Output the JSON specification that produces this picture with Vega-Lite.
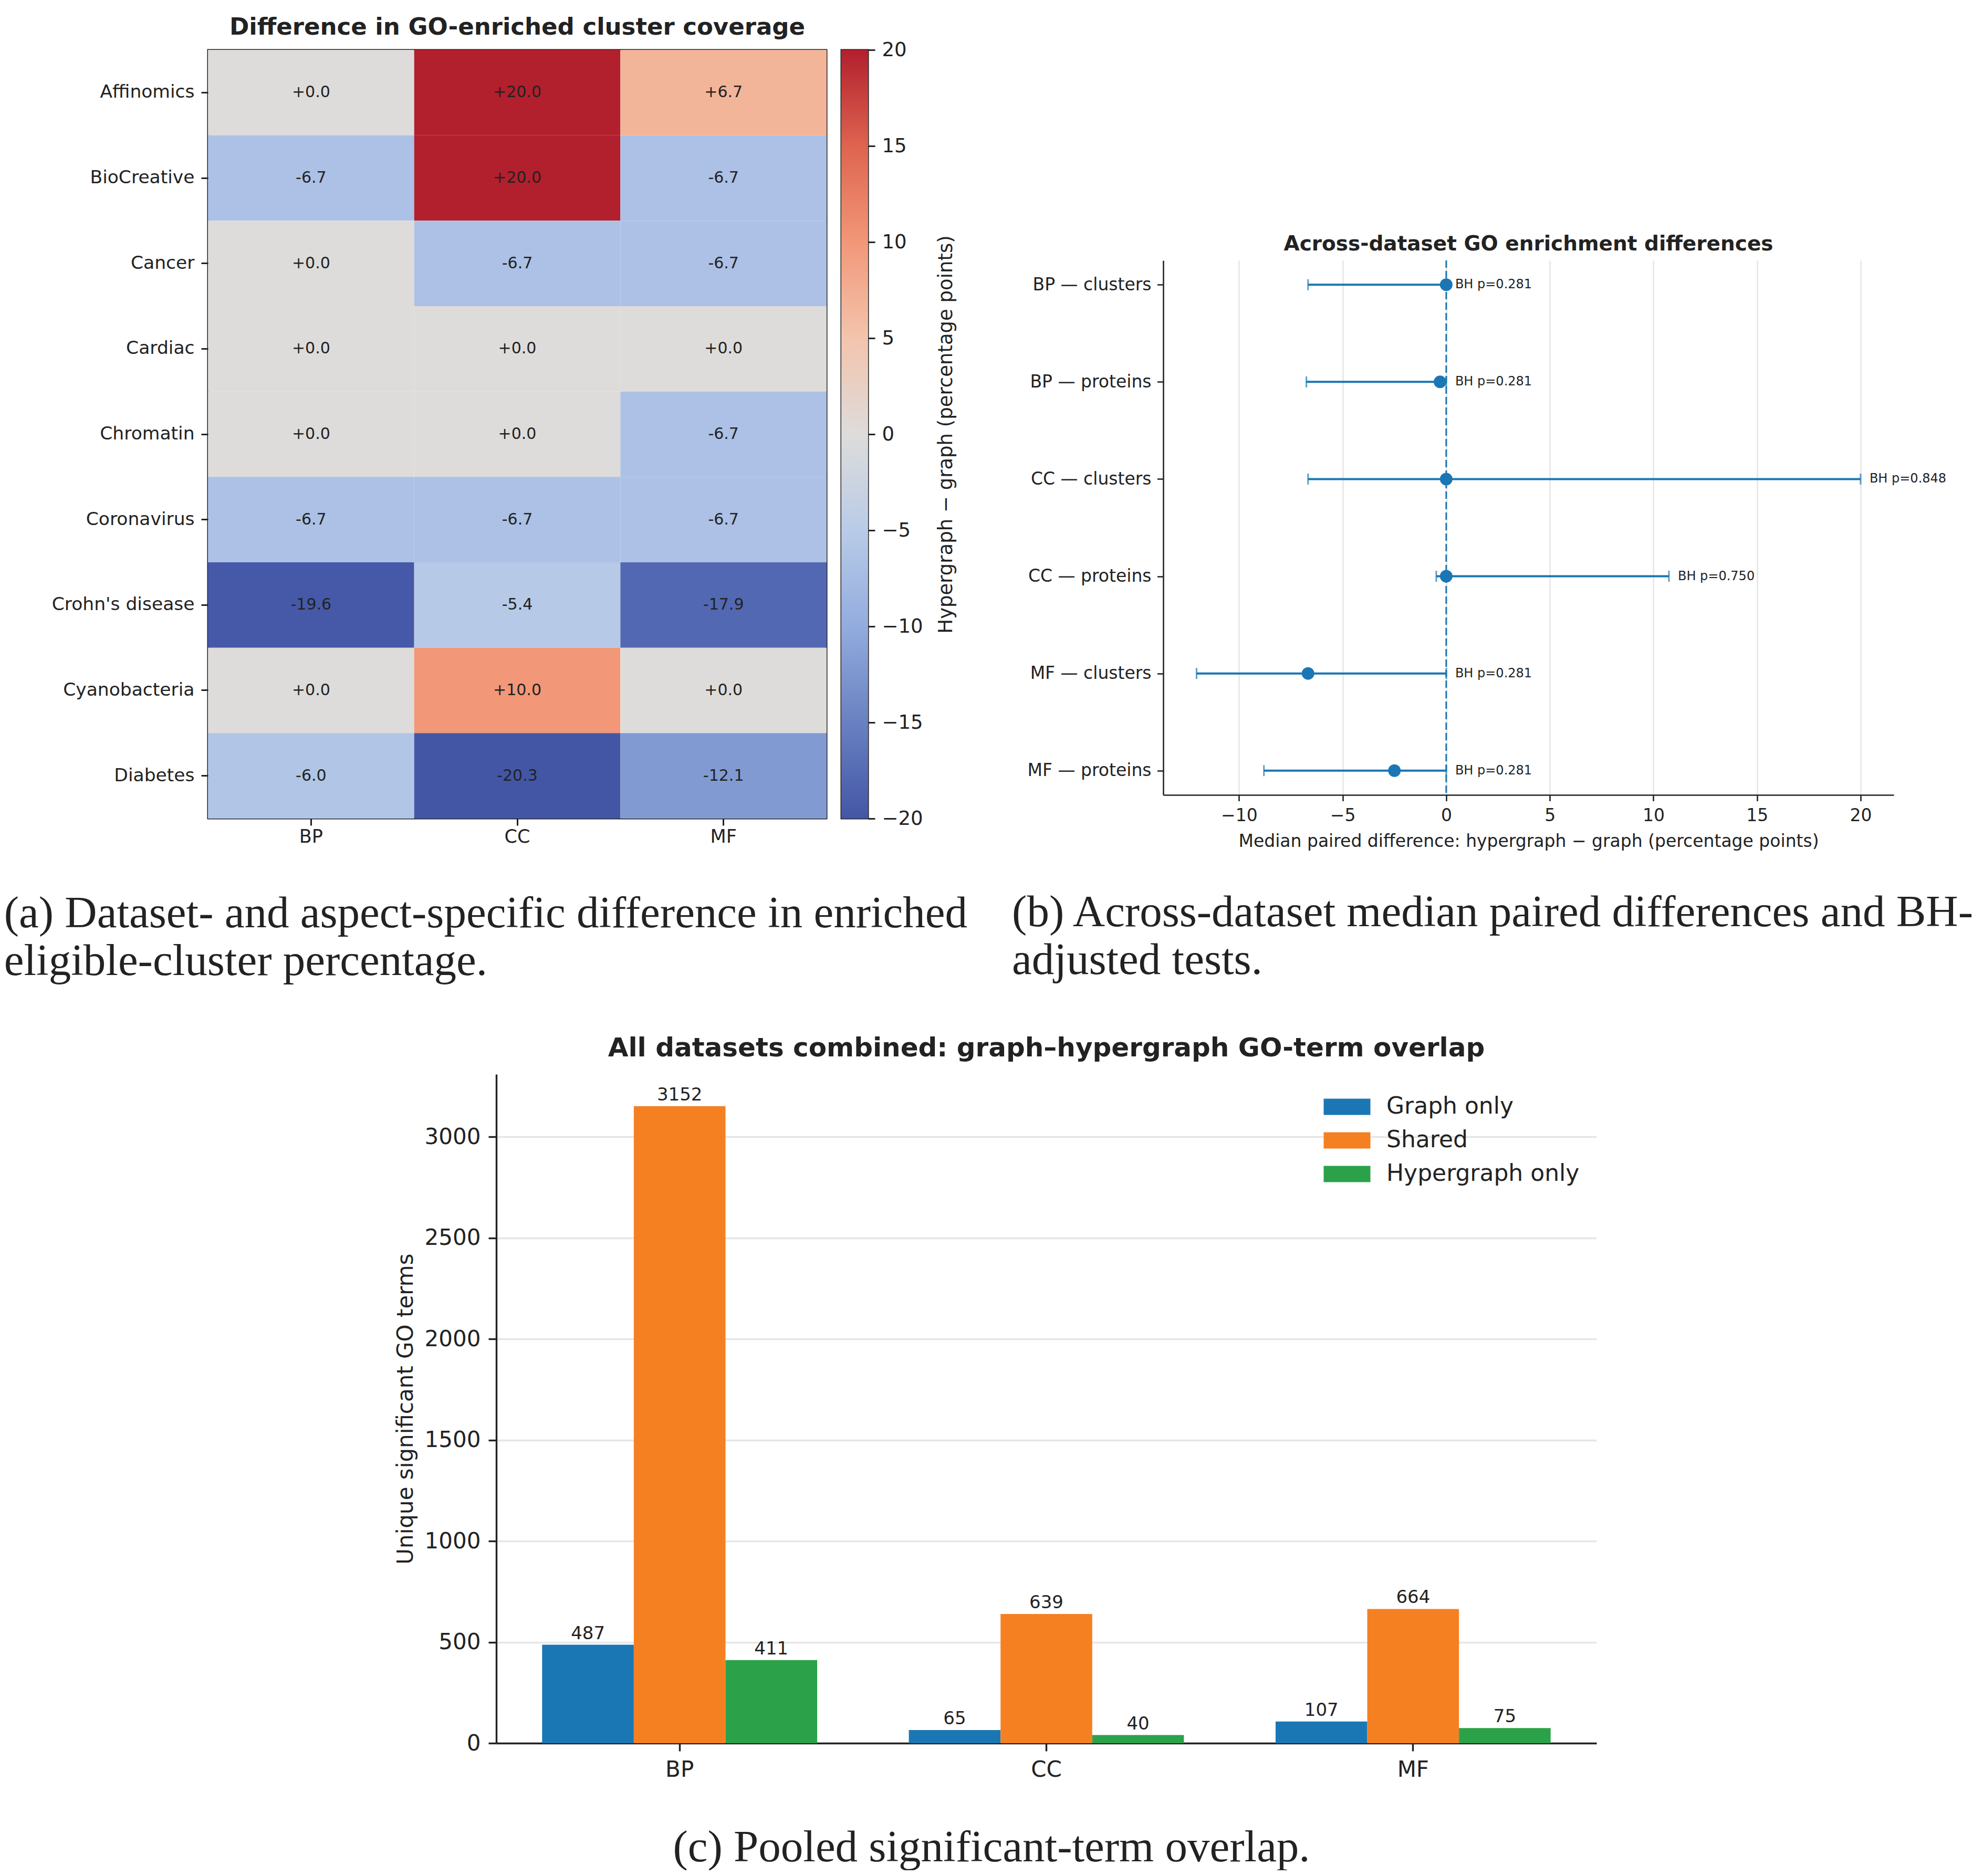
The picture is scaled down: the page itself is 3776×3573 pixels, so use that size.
{
  "$schema": "https://vega.github.io/schema/vega-lite/v6.json",
  "background": "white",
  "padding": {"left": 7, "top": 28, "right": 0, "bottom": 0},
  "config": {
    "view": {"stroke": null},
    "font": "DejaVu Sans",
    "axis": {"labelFont": "DejaVu Sans", "titleFont": "DejaVu Sans", "labelColor": "#222", "titleColor": "#222", "tickColor": "#222", "domainColor": "#222", "titleFontWeight": "normal", "labelLimit": 1000},
    "title": {"font": "DejaVu Sans", "fontWeight": "bold", "color": "#222", "anchor": "middle"},
    "legend": {"labelFont": "DejaVu Sans", "labelColor": "#222"}
  },
  "datasets": {
    "heat": [
      {"dataset": "Affinomics", "aspect": "BP", "diff": 0, "label": "+0.0"},
      {"dataset": "Affinomics", "aspect": "CC", "diff": 20, "label": "+20.0"},
      {"dataset": "Affinomics", "aspect": "MF", "diff": 6.7, "label": "+6.7"},
      {"dataset": "BioCreative", "aspect": "BP", "diff": -6.7, "label": "-6.7"},
      {"dataset": "BioCreative", "aspect": "CC", "diff": 20, "label": "+20.0"},
      {"dataset": "BioCreative", "aspect": "MF", "diff": -6.7, "label": "-6.7"},
      {"dataset": "Cancer", "aspect": "BP", "diff": 0, "label": "+0.0"},
      {"dataset": "Cancer", "aspect": "CC", "diff": -6.7, "label": "-6.7"},
      {"dataset": "Cancer", "aspect": "MF", "diff": -6.7, "label": "-6.7"},
      {"dataset": "Cardiac", "aspect": "BP", "diff": 0, "label": "+0.0"},
      {"dataset": "Cardiac", "aspect": "CC", "diff": 0, "label": "+0.0"},
      {"dataset": "Cardiac", "aspect": "MF", "diff": 0, "label": "+0.0"},
      {"dataset": "Chromatin", "aspect": "BP", "diff": 0, "label": "+0.0"},
      {"dataset": "Chromatin", "aspect": "CC", "diff": 0, "label": "+0.0"},
      {"dataset": "Chromatin", "aspect": "MF", "diff": -6.7, "label": "-6.7"},
      {"dataset": "Coronavirus", "aspect": "BP", "diff": -6.7, "label": "-6.7"},
      {"dataset": "Coronavirus", "aspect": "CC", "diff": -6.7, "label": "-6.7"},
      {"dataset": "Coronavirus", "aspect": "MF", "diff": -6.7, "label": "-6.7"},
      {"dataset": "Crohn's disease", "aspect": "BP", "diff": -19.6, "label": "-19.6"},
      {"dataset": "Crohn's disease", "aspect": "CC", "diff": -5.4, "label": "-5.4"},
      {"dataset": "Crohn's disease", "aspect": "MF", "diff": -17.9, "label": "-17.9"},
      {"dataset": "Cyanobacteria", "aspect": "BP", "diff": 0, "label": "+0.0"},
      {"dataset": "Cyanobacteria", "aspect": "CC", "diff": 10, "label": "+10.0"},
      {"dataset": "Cyanobacteria", "aspect": "MF", "diff": 0, "label": "+0.0"},
      {"dataset": "Diabetes", "aspect": "BP", "diff": -6.0, "label": "-6.0"},
      {"dataset": "Diabetes", "aspect": "CC", "diff": -20.3, "label": "-20.3"},
      {"dataset": "Diabetes", "aspect": "MF", "diff": -12.1, "label": "-12.1"}
    ],
    "forest": [
      {"row": "BP — clusters", "med": 0, "lo": -6.67, "hi": 0, "p": "BH p=0.281"},
      {"row": "BP — proteins", "med": -0.3, "lo": -6.75, "hi": 0, "p": "BH p=0.281"},
      {"row": "CC — clusters", "med": 0, "lo": -6.67, "hi": 20, "p": "BH p=0.848"},
      {"row": "CC — proteins", "med": 0, "lo": -0.48, "hi": 10.75, "p": "BH p=0.750"},
      {"row": "MF — clusters", "med": -6.67, "lo": -12.05, "hi": 0, "p": "BH p=0.281"},
      {"row": "MF — proteins", "med": -2.5, "lo": -8.8, "hi": 0, "p": "BH p=0.281"}
    ],
    "bars": [
      {"aspect": "BP", "set": "Graph only", "count": 487},
      {"aspect": "BP", "set": "Shared", "count": 3152},
      {"aspect": "BP", "set": "Hypergraph only", "count": 411},
      {"aspect": "CC", "set": "Graph only", "count": 65},
      {"aspect": "CC", "set": "Shared", "count": 639},
      {"aspect": "CC", "set": "Hypergraph only", "count": 40},
      {"aspect": "MF", "set": "Graph only", "count": 107},
      {"aspect": "MF", "set": "Shared", "count": 664},
      {"aspect": "MF", "set": "Hypergraph only", "count": 75}
    ]
  },
  "resolve": {"scale": {"color": "independent"}, "legend": {"color": "independent"}},
  "vconcat": [
    {
      "resolve": {"scale": {"color": "independent"}, "legend": {"color": "independent"}},
      "hconcat": [
        {
          "hconcat": [
            {
              "width": 1178,
              "height": 1464,
              "title": {"text": "Difference in GO-enriched cluster coverage", "fontSize": 45, "offset": 20},
              "view": {"stroke": "#222", "strokeWidth": 3},
              "data": {"name": "heat"},
              "encoding": {
                "x": {"field": "aspect", "type": "nominal", "sort": ["BP", "CC", "MF"], "scale": {"paddingInner": 0, "paddingOuter": 0},
                  "axis": {"title": null, "labelAngle": 0, "labelFontSize": 35, "tickSize": 13, "tickWidth": 3, "labelPadding": 4, "domain": false, "grid": false}},
                "y": {"field": "dataset", "type": "nominal", "sort": ["Affinomics", "BioCreative", "Cancer", "Cardiac", "Chromatin", "Coronavirus", "Crohn's disease", "Cyanobacteria", "Diabetes"], "scale": {"paddingInner": 0, "paddingOuter": 0},
                  "axis": {"title": null, "labelFontSize": 34.5, "tickSize": 13, "tickWidth": 3, "labelPadding": 13, "domain": false, "grid": false}}
              },
              "layer": [
                {
                  "mark": {"type": "rect"},
                  "encoding": {
                    "color": {"field": "diff", "type": "quantitative",
                      "scale": {"domain": [-20, -15, -10, -5, 0, 5, 10, 15, 20], "range": ["#4356a6", "#6981c1", "#93acde", "#b9cbe8", "#dedcda", "#f3c4ad", "#f29778", "#de6450", "#b21f2d"], "clamp": true},
                      "legend": null}
                  }
                },
                {
                  "mark": {"type": "text", "fontSize": 30, "color": "#222"},
                  "encoding": {"text": {"field": "label"}}
                }
              ]
            },
            {
              "width": 51,
              "height": 1464,
              "view": {"stroke": "#222", "strokeWidth": 3},
              "data": {"values": [{}]},
              "mark": {"type": "rect", "color": {"gradient": "linear", "x1": 0, "y1": 1, "x2": 0, "y2": 0,
                "stops": [
                  {"offset": 0, "color": "#4356a6"}, {"offset": 0.125, "color": "#6981c1"}, {"offset": 0.25, "color": "#93acde"},
                  {"offset": 0.375, "color": "#b9cbe8"}, {"offset": 0.5, "color": "#dedcda"}, {"offset": 0.625, "color": "#f3c4ad"},
                  {"offset": 0.75, "color": "#f29778"}, {"offset": 0.875, "color": "#de6450"}, {"offset": 1, "color": "#b21f2d"}]}},
              "encoding": {
                "y": {"datum": -20, "type": "quantitative", "scale": {"domain": [-20, 20], "nice": false, "zero": false},
                  "axis": {"orient": "right", "values": [-20, -15, -10, -5, 0, 5, 10, 15, 20], "title": "Hypergraph − graph (percentage points)", "titleAngle": 270, "titleBaseline": "top", "titleFontSize": 37, "titlePadding": 26, "labelFontSize": 37, "tickSize": 13, "tickWidth": 3, "labelPadding": 13, "domain": false, "grid": false}},
                "y2": {"datum": 20}
              }
            }
          ],
          "spacing": 24,
          "title": {"text": ["(a) Dataset- and aspect-specific difference in enriched", "eligible-cluster percentage."], "orient": "bottom", "anchor": "start", "font": "Liberation Serif", "fontSize": 85, "fontWeight": "normal", "lineHeight": 91, "offset": 86, "dx": -89, "color": "#222"}
        },
        {
          "vconcat": [
            {
              "width": 1391,
              "height": 350,
              "data": {"values": []},
              "mark": {"type": "point", "opacity": 0}
            },
            {
              "width": 1391,
              "height": 1018,
              "title": {"text": "Across-dataset GO enrichment differences", "fontSize": 39, "offset": 10},
              "data": {"name": "forest"},
              "layer": [
                {
                  "data": {"values": [{}]},
                  "mark": {"type": "rule", "strokeDash": [14, 6], "strokeWidth": 3, "color": "#1a76b4"},
                  "encoding": {
                    "x": {"datum": 0, "type": "quantitative", "scale": {"domain": [-13.66, 21.6], "nice": false, "zero": false},
                      "axis": {"values": [-10, -5, 0, 5, 10, 15, 20], "title": "Median paired difference: hypergraph − graph (percentage points)", "titleFontSize": 33, "titlePadding": 16, "labelFontSize": 33, "tickSize": 11.5, "tickWidth": 2.6, "labelPadding": 11.5, "domainWidth": 2.6, "grid": true, "gridColor": "#e6e6e6", "gridWidth": 2.6}}
                  }
                },
                {
                  "mark": {"type": "rule", "strokeWidth": 4, "color": "#1a76b4"},
                  "encoding": {
                    "x": {"field": "lo", "type": "quantitative", "scale": {"domain": [-13.66, 21.6], "nice": false, "zero": false}, "title": "Median paired difference: hypergraph − graph (percentage points)"},
                    "x2": {"field": "hi"},
                    "y": {"field": "row", "type": "nominal", "sort": ["BP — clusters", "BP — proteins", "CC — clusters", "CC — proteins", "MF — clusters", "MF — proteins"], "scale": {"type": "point", "padding": 0.25},
                      "axis": {"title": null, "labelFontSize": 33, "tickSize": 11.5, "tickWidth": 2.6, "labelPadding": 11.5, "domainWidth": 2.6, "grid": false}}
                  }
                },
                {
                  "mark": {"type": "tick", "size": 21, "thickness": 3, "color": "#1a76b4"},
                  "encoding": {
                    "x": {"field": "lo", "type": "quantitative", "title": "Median paired difference: hypergraph − graph (percentage points)"},
                    "y": {"field": "row", "type": "nominal", "sort": ["BP — clusters", "BP — proteins", "CC — clusters", "CC — proteins", "MF — clusters", "MF — proteins"]}
                  }
                },
                {
                  "mark": {"type": "tick", "size": 21, "thickness": 3, "color": "#1a76b4"},
                  "encoding": {
                    "x": {"field": "hi", "type": "quantitative", "title": "Median paired difference: hypergraph − graph (percentage points)"},
                    "y": {"field": "row", "type": "nominal", "sort": ["BP — clusters", "BP — proteins", "CC — clusters", "CC — proteins", "MF — clusters", "MF — proteins"]}
                  }
                },
                {
                  "mark": {"type": "point", "filled": true, "size": 576, "opacity": 1, "color": "#1a76b4"},
                  "encoding": {
                    "x": {"field": "med", "type": "quantitative", "title": "Median paired difference: hypergraph − graph (percentage points)"},
                    "y": {"field": "row", "type": "nominal", "sort": ["BP — clusters", "BP — proteins", "CC — clusters", "CC — proteins", "MF — clusters", "MF — proteins"]}
                  }
                },
                {
                  "mark": {"type": "text", "align": "left", "baseline": "middle", "dx": 17, "fontSize": 24, "color": "#222"},
                  "encoding": {
                    "x": {"field": "hi", "type": "quantitative", "title": "Median paired difference: hypergraph − graph (percentage points)"},
                    "y": {"field": "row", "type": "nominal", "sort": ["BP — clusters", "BP — proteins", "CC — clusters", "CC — proteins", "MF — clusters", "MF — proteins"]},
                    "text": {"field": "p"}
                  }
                }
              ]
            }
          ],
          "spacing": 0,
          "title": {"text": ["(b) Across-dataset median paired differences and BH-", "adjusted tests."], "orient": "bottom", "anchor": "start", "font": "Liberation Serif", "fontSize": 85, "fontWeight": "normal", "lineHeight": 91, "offset": 78, "dx": -29, "color": "#222"}
        }
      ],
      "spacing": 84
    },
    {
      "resolve": {"scale": {"color": "independent"}, "legend": {"color": "independent"}},
      "hconcat": [
        {
          "width": 355,
          "height": 1,
          "data": {"values": []},
          "mark": {"type": "point", "opacity": 0}
        },
        {
          "width": 2095,
          "height": 1274,
          "title": {"text": "All datasets combined: graph–hypergraph GO-term overlap", "fontSize": 50, "offset": 24},
          "data": {"name": "bars"},
          "encoding": {
            "x": {"field": "aspect", "type": "nominal", "sort": ["BP", "CC", "MF"], "scale": {"paddingInner": 0.25, "paddingOuter": 0.125},
              "axis": {"title": null, "labelAngle": 0, "labelFontSize": 42, "tickSize": 15, "tickWidth": 3.4, "labelPadding": 15, "domainWidth": 3.4, "grid": false}},
            "xOffset": {"field": "set", "sort": ["Graph only", "Shared", "Hypergraph only"], "scale": {"paddingInner": 0, "paddingOuter": 0}},
            "y": {"field": "count", "type": "quantitative", "scale": {"domain": [0, 3310], "nice": false},
              "axis": {"values": [0, 500, 1000, 1500, 2000, 2500, 3000], "format": "d", "title": "Unique significant GO terms", "titleFontSize": 42, "titlePadding": 14, "labelFontSize": 42, "tickSize": 15, "tickWidth": 3.4, "labelPadding": 15, "domainWidth": 3.4, "grid": true, "gridColor": "#e6e6e6", "gridWidth": 3.4}}
          },
          "layer": [
            {
              "mark": {"type": "bar"},
              "encoding": {
                "color": {"field": "set", "type": "nominal", "sort": ["Graph only", "Shared", "Hypergraph only"],
                  "scale": {"domain": ["Graph only", "Shared", "Hypergraph only"], "range": ["#1a77b4", "#f58022", "#2ba24a"]},
                  "legend": {"title": null, "orient": "top-right", "offset": 32, "padding": 0, "labelFontSize": 44, "labelOffset": 45, "symbolType": "M-1.5,-0.52H1.5V0.52H-1.5Z", "symbolSize": 3520, "symbolStrokeWidth": 0, "symbolOpacity": 1, "rowPadding": 12, "labelLimit": 600}}
              }
            },
            {
              "mark": {"type": "text", "baseline": "bottom", "dy": -4, "fontSize": 34, "color": "#222"},
              "encoding": {"text": {"field": "count", "type": "quantitative"}}
            }
          ]
        }
      ],
      "spacing": 0,
      "title": {"text": "(c) Pooled significant-term overlap.", "orient": "bottom", "anchor": "middle", "font": "Liberation Serif", "fontSize": 85, "fontWeight": "normal", "offset": 87, "dx": 170, "color": "#222"}
    }
  ],
  "spacing": 98
}
